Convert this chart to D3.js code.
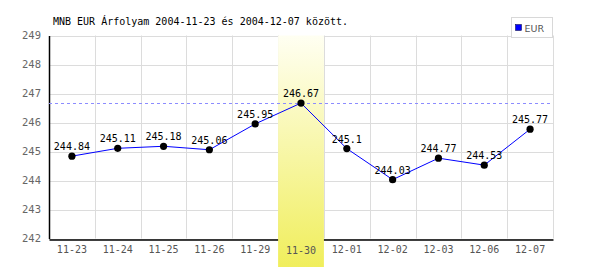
<!DOCTYPE html>
<html>
<head>
<meta charset="utf-8">
<script src="https://cdn.jsdelivr.net/npm/d3@7"></script>
<style>
  body { margin: 0; background: #fff; }
</style>
</head>
<body>
<div class="chart"></div>
<script>
// data
const days = ["11-23","11-24","11-25","11-26","11-29","11-30","12-01","12-02","12-03","12-06","12-07"];
const eur = [244.84, 245.11, 245.18, 245.06, 245.95, 246.67, 245.1, 244.03, 244.77, 244.53, 245.77];
const yTicks = [242, 243, 244, 245, 246, 247, 248, 249];
const highlightDay = "11-30";
const maxValue = 246.67;
const title = "MNB EUR Árfolyam 2004-11-23 és 2004-12-07 között.";
const legendLabel = "EUR";

const width = 600, height = 270;
const mono = "'DejaVu Sans Mono', monospace";

const svg = d3.select(".chart").append("svg")
    .attr("width", width)
    .attr("height", height);

const xScale = d3.scaleBand()
    .domain(days)
    .range([49, 553])
    .padding(0);

const yScale = d3.scaleLinear()
    .domain([242, 249])
    .range([238.5, 35.5]);

// gradient for the highlighted day
const defs = svg.append("defs");
const grad = defs.append("linearGradient")
    .attr("id", "hl")
    .attr("x1", 0).attr("y1", 0).attr("x2", 0).attr("y2", 1);
grad.append("stop").attr("offset", "0%").attr("stop-color", "#fffff2");
grad.append("stop").attr("offset", "100%").attr("stop-color", "#f0ee5c");

// grid
svg.append("g")
    .selectAll("line")
    .data(yTicks)
    .enter()
    .append("line")
    .attr("x1", xScale.range()[0])
    .attr("x2", xScale.range()[1])
    .attr("y1", d => Math.round(yScale(d)) + 0.5)
    .attr("y2", d => Math.round(yScale(d)) + 0.5)
    .attr("stroke", "#dcdcdc");

const bounds = days.map(d => xScale(d)).concat([xScale.range()[1]]);
svg.append("g")
    .selectAll("line")
    .data(bounds.slice(1))
    .enter()
    .append("line")
    .attr("x1", d => Math.round(d) + 0.5)
    .attr("x2", d => Math.round(d) + 0.5)
    .attr("y1", yScale(249))
    .attr("y2", yScale(242))
    .attr("stroke", "#dcdcdc");

// axes
let xAxis = d3.axisBottom(xScale).tickSize(0).tickPadding(6);
let yAxis = d3.axisLeft(yScale).tickValues(yTicks).tickSize(0).tickPadding(8).tickFormat(d3.format("d"));

svg.append("g")
    .attr("class", "axis x-axis")
    .attr("transform", `translate(0, ${Math.round(yScale(242)) + 0.5})`)
    .call(xAxis)
    .call(g => g.select(".domain").attr("stroke", "#000").attr("stroke-width", 1.5))
    .call(g => g.selectAll("text").attr("font-family", mono).attr("font-size", "10px").attr("fill", "#555"));

svg.append("g")
    .attr("class", "axis y-axis")
    .attr("transform", `translate(${xScale.range()[0]}, 0)`)
    .call(yAxis)
    .call(g => g.select(".domain").attr("stroke", "#000").attr("stroke-width", 1.5))
    .call(g => g.selectAll("text").attr("font-family", mono).attr("font-size", "10.5px").attr("fill", "#666"));

// highlighted day, drawn over the bottom axis
svg.append("rect")
    .attr("x", xScale(highlightDay))
    .attr("y", yScale(249))
    .attr("width", xScale.bandwidth())
    .attr("height", height - 3 - yScale(249))
    .attr("fill", "url(#hl)");

svg.append("text")
    .attr("x", xScale(highlightDay) + xScale.bandwidth() / 2)
    .attr("y", Math.round(yScale(242)) + 15)
    .attr("text-anchor", "middle")
    .attr("font-family", mono)
    .attr("font-size", "10px")
    .attr("fill", "#555")
    .text(highlightDay);

// max line
svg.append("line")
    .attr("x1", xScale.range()[0])
    .attr("x2", xScale.range()[1])
    .attr("y1", Math.round(yScale(maxValue)) + 0.5)
    .attr("y2", Math.round(yScale(maxValue)) + 0.5)
    .attr("stroke", "#8c8cff")
    .attr("stroke-dasharray", "3,3");

// series
let line = d3.line()
    .x((d, i) => xScale(days[i]) + xScale.bandwidth() / 2)
    .y(d => yScale(d));

svg.append("path")
    .datum(eur)
    .attr("fill", "none")
    .attr("stroke", "#0000ff")
    .attr("stroke-width", 1)
    .attr("d", line);

svg.append("g")
    .selectAll("circle")
    .data(eur)
    .enter()
    .append("circle")
    .attr("cx", (d, i) => xScale(days[i]) + xScale.bandwidth() / 2)
    .attr("cy", d => yScale(d))
    .attr("r", 3.6)
    .attr("fill", "#000");

svg.append("g")
    .selectAll("text")
    .data(eur)
    .enter()
    .append("text")
    .attr("x", (d, i) => xScale(days[i]) + xScale.bandwidth() / 2)
    .attr("y", d => yScale(d) - 6)
    .attr("text-anchor", "middle")
    .attr("font-family", mono)
    .attr("font-size", "10px")
    .attr("fill", "#000")
    .text(d => d);

// title
svg.append("text")
    .attr("x", 53)
    .attr("y", 25)
    .attr("font-family", mono)
    .attr("font-size", "10px")
    .attr("fill", "#000")
    .text(title);

// legend
const lg = svg.append("g").attr("transform", "translate(511.5, 17.5)");
lg.append("rect")
    .attr("width", 41)
    .attr("height", 20)
    .attr("fill", "#fff")
    .attr("stroke", "#d8d8d8");
lg.append("rect")
    .attr("x", 4).attr("y", 7)
    .attr("width", 6).attr("height", 6)
    .attr("fill", "#0000ff")
    .attr("stroke", "#000033")
    .attr("stroke-width", 0.5);
lg.append("text")
    .attr("x", 13).attr("y", 14)
    .attr("font-family", "'DejaVu Sans', sans-serif")
    .attr("font-size", "9.5px")
    .attr("fill", "#555")
    .text(legendLabel);
</script>
</body>
</html>
